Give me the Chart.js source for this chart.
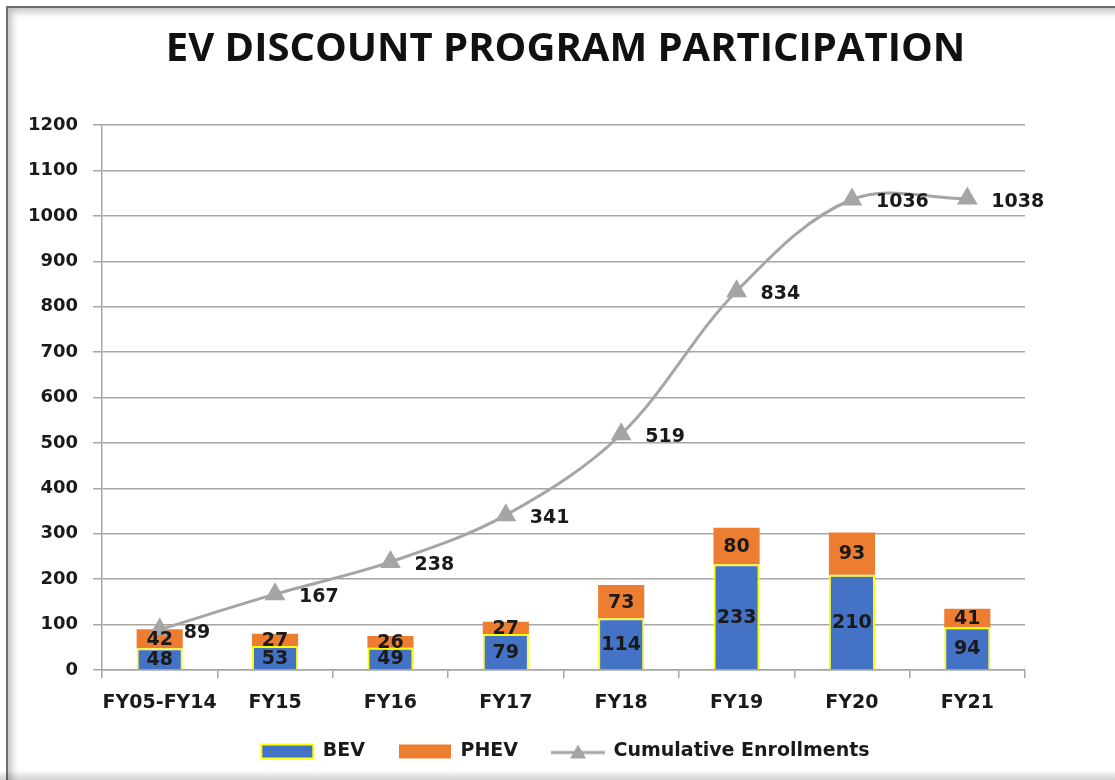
<!DOCTYPE html>
<html>
<head>
<meta charset="utf-8">
<script src="https://cdn.jsdelivr.net/npm/chart.js@4.4.1/dist/chart.umd.min.js"></script>
<style>
  html, body { margin: 0; padding: 0; background: #fff; }
  #wrap { position: relative; width: 1115px; height: 780px; overflow: hidden; background: #fff; }
  #frame {
    position: absolute; left: 6px; top: 6px; width: 1130px; height: 780px;
    border-left: 2px solid #6e6e6e; border-top: 2px solid #6e6e6e;
    box-shadow: inset 7px 7px 8px -4px rgba(0,0,0,0.28);
  }
  #bottomShade {
    position: absolute; left: 0; bottom: 0; width: 1115px; height: 10px;
    background: linear-gradient(to bottom, rgba(0,0,0,0), rgba(0,0,0,0.18));
  }
  #chart { position: absolute; left: 0; top: 0; }
</style>
</head>
<body>
<div id="wrap">
  <div id="frame"></div>
  <div id="bottomShade"></div>
  <canvas id="chart" width="1115" height="780"></canvas>
</div>
<script>
// --- Data ---
const categories = ['FY05-FY14', 'FY15', 'FY16', 'FY17', 'FY18', 'FY19', 'FY20', 'FY21'];
const bevValues = [48, 53, 49, 79, 114, 233, 210, 94];
const phevValues = [42, 27, 26, 27, 73, 80, 93, 41];
const cumulativeValues = [89, 167, 238, 341, 519, 834, 1036, 1038];
const yTicks = { min: 0, max: 1200, step: 100 };

// Colors (Excel defaults)
const COLORS = {
    bev: '#4472C4',
    bevBorder: '#FFFF00',
    phev: '#ED7D31',
    line: '#A5A5A5',
    grid: '#A6A6A6',
    text: '#1a1a1a'
};

// legend icon for the line series: line with a triangle in the middle
const makeLineIcon = () => {
    const c = document.createElement('canvas');
    c.width = 54;
    c.height = 18;
    const g = c.getContext('2d');
    g.strokeStyle = COLORS.line;
    g.lineWidth = 3;
    g.beginPath();
    g.moveTo(0, 10);
    g.lineTo(54, 10);
    g.stroke();
    g.fillStyle = COLORS.line;
    g.beginPath();
    g.moveTo(27, 2);
    g.lineTo(35, 16);
    g.lineTo(19, 16);
    g.closePath();
    g.fill();
    return c;
};

// --- Value labels ---
const valueLabels = {
    id: 'valueLabels',
    afterDatasetsDraw(chart) {
        const ctx = chart.ctx;
        ctx.save();
        ctx.font = 'bold 19px "DejaVu Sans"';
        ctx.fillStyle = COLORS.text;
        ctx.textBaseline = 'middle';
        chart.data.datasets.forEach((ds, i) => {
            const meta = chart.getDatasetMeta(i);
            meta.data.forEach((el, j) => {
                const v = ds.data[j];
                if (meta.type === 'bar') {
                    ctx.textAlign = 'center';
                    ctx.fillText(v, el.x, (el.y + el.base) / 2 + 1);
                } else {
                    ctx.textAlign = 'left';
                    ctx.fillText(v, el.x + 24, el.y + 3);
                }
            });
        });
        ctx.restore();
    }
};

const ctx = document.getElementById('chart').getContext('2d');
const chart = new Chart(ctx, {
    data: {
        labels: categories,
        datasets: [
            {
                type: 'bar',
                label: 'BEV',
                data: bevValues,
                backgroundColor: COLORS.bev,
                borderColor: COLORS.bevBorder,
                borderWidth: 2,
                barPercentage: 0.4,
                categoryPercentage: 1.0,
                order: 1
            },
            {
                type: 'bar',
                label: 'PHEV',
                data: phevValues,
                backgroundColor: COLORS.phev,
                borderWidth: 0,
                barPercentage: 0.4,
                categoryPercentage: 1.0,
                order: 1
            },
            {
                type: 'line',
                label: 'Cumulative Enrollments',
                data: cumulativeValues,
                stack: 'cum',
                borderColor: COLORS.line,
                backgroundColor: COLORS.line,
                borderWidth: 3,
                tension: 0.35,
                pointStyle: 'triangle',
                pointRadius: 9,
                pointBackgroundColor: COLORS.line,
                pointBorderColor: COLORS.line,
                order: 0
            }
        ]
    },
    options: {
        responsive: false,
        animation: false,
        layout: { padding: { left: 21, right: 5, top: 0, bottom: 9 } },
        scales: {
            x: {
                stacked: true,
                offset: true,
                grid: {
                    offset: true,
                    drawOnChartArea: false,
                    drawTicks: true,
                    tickLength: 8,
                    color: COLORS.grid,
                    lineWidth: 1.5
                },
                border: { color: COLORS.grid, width: 1.5 },
                ticks: {
                    autoSkip: false,
                    color: COLORS.text,
                    font: { family: 'DejaVu Sans', size: 19, weight: 'bold' },
                    padding: 14,
                    maxRotation: 0
                },
                afterFit: (scale) => { scale.height = 38; }
            },
            y: {
                stacked: true,
                min: yTicks.min,
                max: yTicks.max,
                grid: {
                    color: COLORS.grid,
                    lineWidth: 1.5,
                    tickLength: 9
                },
                border: { color: COLORS.grid, width: 1.5 },
                ticks: {
                    stepSize: yTicks.step,
                    color: COLORS.text,
                    font: { family: 'DejaVu Sans', size: 18, weight: 'bold' },
                    padding: 15,
                    callback: (v) => String(v)
                },
                afterFit: (scale) => { scale.width = 81; }
            },
            // empty right-hand spacer so the title and legend centre like the original
            spacer: {
                type: 'linear',
                position: 'right',
                display: true,
                grid: { display: false, drawTicks: false },
                border: { display: false },
                ticks: { display: false },
                afterFit: (scale) => { scale.width = 85; }
            }
        },
        plugins: {
            title: {
                display: true,
                text: 'EV DISCOUNT PROGRAM PARTICIPATION',
                color: '#111',
                font: { family: '"Open Sans", "DejaVu Sans", sans-serif', size: 40, weight: 'bold', lineHeight: 1.2 },
                padding: { top: 26, bottom: 51 }
            },
            legend: {
                position: 'bottom',
                labels: {
                    usePointStyle: true,
                    pointStyleWidth: 52,
                    boxHeight: 14,
                    padding: 34,
                    color: COLORS.text,
                    font: { family: 'DejaVu Sans', size: 19, weight: 'bold' },
                    sort: (a, b) => a.datasetIndex - b.datasetIndex,
                    generateLabels: (ch) => {
                        const items = Chart.defaults.plugins.legend.labels.generateLabels(ch);
                        items.forEach(item => {
                            if (item.datasetIndex === 2) {
                                item.pointStyle = makeLineIcon();
                            } else {
                                item.pointStyle = 'rect';
                            }
                        });
                        return items;
                    }
                }
            },
            tooltip: { enabled: false }
        }
    },
    plugins: [valueLabels]
});
</script>
</body>
</html>
